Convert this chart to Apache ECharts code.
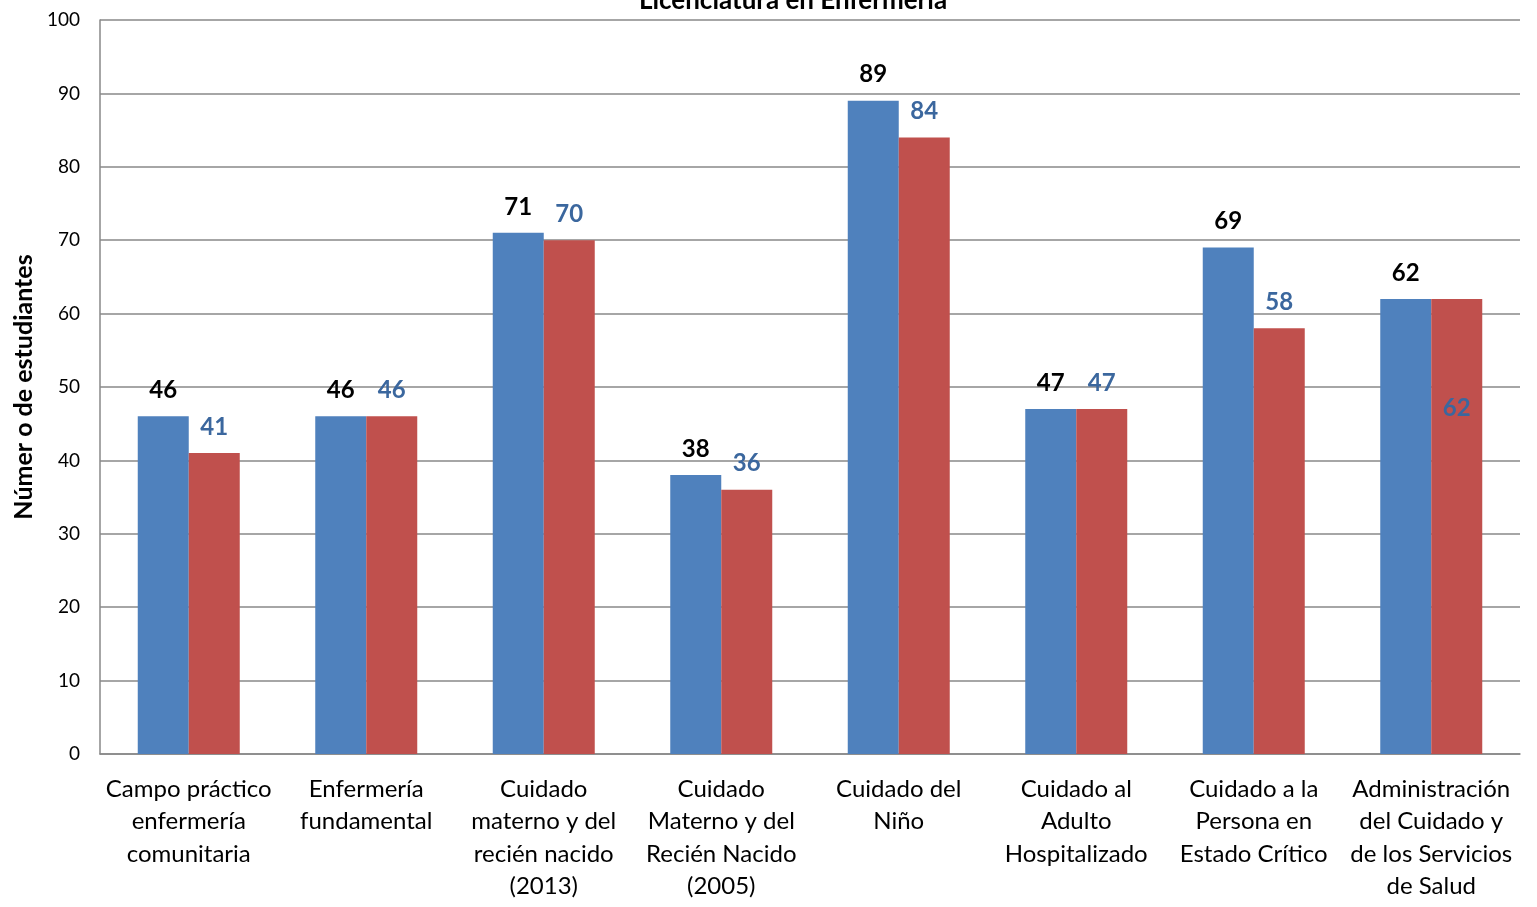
<!DOCTYPE html>
<html>
<head>
<meta charset="utf-8">
<script src="https://cdn.jsdelivr.net/npm/echarts@6/dist/echarts.min.js"></script>
<style>
  html, body { margin: 0; padding: 0; background: #ffffff; }
  #chart { width: 1537px; height: 907px; }
</style>
</head>
<body>
<div id="chart"></div>
<script>
// Courses of the nursing degree
const categories = [
  'Campo práctico\nenfermería\ncomunitaria',
  'Enfermería\nfundamental',
  'Cuidado\nmaterno y del\nrecién nacido\n(2013)',
  'Cuidado\nMaterno y del\nRecién Nacido\n(2005)',
  'Cuidado del\nNiño',
  'Cuidado al\nAdulto\nHospitalizado',
  'Cuidado a la\nPersona en\nEstado Crítico',
  'Administración\ndel Cuidado y\nde los Servicios\nde Salud'
];
// Students per course, two series
const seriesA = [46, 46, 71, 38, 89, 47, 69, 62];
const seriesB = [41, 46, 70, 36, 84, 47, 58, 62];
const yTicks = { min: 0, max: 100, interval: 10 };

const FONT = 'Lato, "Open Sans", "Liberation Sans", sans-serif';

const chart = echarts.init(document.getElementById('chart'), null, { renderer: 'canvas' });

const dataB = seriesB.map((v, i) => {
  // last value label sits inside the bar
  if (i === seriesB.length - 1) {
    return { value: v, label: { position: 'insideTop', distance: 97 } };
  }
  return v;
});

chart.setOption({
  backgroundColor: '#ffffff',
  animation: false,
  title: {
    text: 'Licenciatura en Enfermería',
    left: 788,
    textAlign: 'center',
    top: -17,
    textStyle: { fontFamily: FONT, fontSize: 26, fontWeight: 'bold', color: '#000' }
  },
  grid: { left: 100, right: 17, top: 20, bottom: 153, containLabel: false },
  xAxis: {
    type: 'category',
    data: categories,
    axisLine: { lineStyle: { color: '#888', width: 1.5 } },
    axisTick: { show: false },
    axisLabel: {
      interval: 0,
      margin: 19,
      fontFamily: FONT,
      fontSize: 24,
      lineHeight: 32.5,
      color: '#000'
    }
  },
  yAxis: {
    type: 'value',
    min: yTicks.min,
    max: yTicks.max,
    interval: yTicks.interval,
    name: 'Númer o de estudiantes',
    nameLocation: 'middle',
    nameGap: 62,
    nameTextStyle: { fontFamily: FONT, fontSize: 25, fontWeight: 'bold', color: '#000' },
    axisLine: { show: true, lineStyle: { color: '#888', width: 1.5 } },
    axisTick: { show: false },
    axisLabel: { margin: 20, fontFamily: FONT, fontSize: 19, color: '#000' },
    splitLine: { lineStyle: { color: '#888', width: 1.5 } }
  },
  series: [
    {
      type: 'bar',
      data: seriesA,
      barWidth: 51,
      barGap: '0%',
      itemStyle: { color: '#4f81bd' },
      label: {
        show: true,
        position: 'top',
        distance: 14,
        fontFamily: FONT,
        fontSize: 24,
        fontWeight: 'bold',
        color: '#000'
      }
    },
    {
      type: 'bar',
      data: dataB,
      barWidth: 51,
      barGap: '0%',
      itemStyle: { color: '#c0504d' },
      label: {
        show: true,
        position: 'top',
        distance: 14,
        fontFamily: FONT,
        fontSize: 24,
        fontWeight: 'bold',
        color: '#3b679e'
      }
    }
  ]
});
</script>
</body>
</html>
